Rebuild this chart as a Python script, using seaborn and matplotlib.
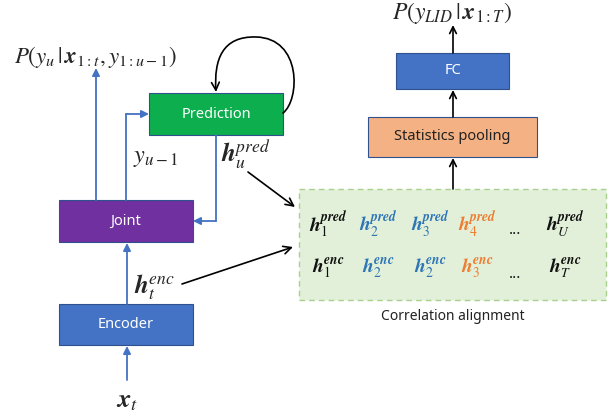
import matplotlib
matplotlib.use("Agg")
import matplotlib.pyplot as plt
import seaborn as sns
from matplotlib.patches import Rectangle, FancyArrowPatch
from matplotlib.path import Path

sns.set_theme(style="white")
plt.rcParams['font.family'] = ['Noto Sans', 'DejaVu Sans']
plt.rcParams['mathtext.fontset'] = 'stix'

# ---- content ----
box_names = ["Prediction", "Joint", "Encoder", "FC", "Statistics pooling"]
box_colors = ["#0DAE4E", "#7030A0", "#4472C4", "#4472C4", "#F4B183"]
box_text_colors = ["white", "white", "white", "white", "#222222"]

pred_row = [r"$\mathbfit{h}_{1}^{\mathbfit{pred}}$", r"$\mathbfit{h}_{2}^{\mathbfit{pred}}$",
            r"$\mathbfit{h}_{3}^{\mathbfit{pred}}$", r"$\mathbfit{h}_{4}^{\mathbfit{pred}}$",
            "...", r"$\mathbfit{h}_{U}^{\mathbfit{pred}}$"]
enc_row = [r"$\mathbfit{h}_{1}^{\mathbfit{enc}}$", r"$\mathbfit{h}_{2}^{\mathbfit{enc}}$",
           r"$\mathbfit{h}_{2}^{\mathbfit{enc}}$", r"$\mathbfit{h}_{3}^{\mathbfit{enc}}$",
           "...", r"$\mathbfit{h}_{T}^{\mathbfit{enc}}$"]
row_colors = ["#111111", "#2E75B6", "#2E75B6", "#ED7D31", "#111111", "#111111"]

label_out_asr = r"$P(y_u\,|\,\mathbfit{x}_{1:t},y_{1:u-1})$"
label_out_lid = r"$P(y_{LID}\,|\,\mathbfit{x}_{1:T})$"
label_prev = r"$y_{u-1}$"
label_hpred = r"$\mathbfit{h}_u^{pred}$"
label_henc = r"$\mathbfit{h}_t^{enc}$"
label_x = r"$\mathbfit{x}_t$"
label_align = "Correlation alignment"

# ---- layout (pixel coordinates) ----
box_rects = [(149, 93, 134, 42), (59, 200, 134, 42), (59, 304, 134, 41),
             (396, 53, 113, 36), (368, 117, 169, 40)]
col_x = [328, 378, 430, 477, 515, 565]

BLUE = "#4472C4"
fig = plt.figure(figsize=(6.16, 4.16), dpi=100)
ax = fig.add_axes([0, 0, 1, 1])
ax.set_xlim(0, 616)
ax.set_ylim(416, 0)
ax.axis("off")

# green alignment box
ax.add_patch(Rectangle((299, 189), 307, 111, facecolor="#E2F0D9", edgecolor="#A9D18E",
                       lw=1.0, ls=(0, (4, 3)), zorder=1))

for (x, y, w, h), name, fc, tc in zip(box_rects, box_names, box_colors, box_text_colors):
    ax.add_patch(Rectangle((x, y), w, h, facecolor=fc, edgecolor="#2F528F", lw=0.8, zorder=2))
    ax.text(x + w / 2, y + h / 2, name, ha="center", va="center", color=tc,
            fontsize=10.5, zorder=3)

def arrow(p0, p1, color, style, lw=1.2, ms=12):
    ax.annotate("", xy=p1, xytext=p0,
                arrowprops=dict(arrowstyle=style, color=color, lw=lw,
                                shrinkA=0, shrinkB=0, mutation_scale=ms), zorder=4)

# blue connections
arrow((127, 380), (127, 346), BLUE, "-|>", 1.3, 11)
arrow((127, 304), (127, 243), BLUE, "-|>", 1.3, 11)
arrow((96, 200), (96, 68), BLUE, "-|>", 1.3, 11)
ax.plot([126, 126], [200, 114], color=BLUE, lw=1.3, zorder=4)
arrow((126, 114), (149, 114), BLUE, "-|>", 1.3, 11)
ax.plot([216, 216], [135, 221], color=BLUE, lw=1.3, zorder=4)
arrow((216, 221), (193, 221), BLUE, "-|>", 1.3, 11)

# black arrows
arrow((182, 284), (293, 247), "black", "->", 1.2, 14)
arrow((248, 172), (295, 207), "black", "->", 1.2, 14)
arrow((453, 189), (453, 158), "black", "->", 1.2, 12)
arrow((453, 117), (453, 90), "black", "->", 1.2, 12)
arrow((453, 53), (453, 25), "black", "->", 1.2, 12)

# self loop on prediction
verts = [(283, 113), (300, 100), (302, 38), (256, 37),
         (222, 36), (214, 60), (216, 92)]
codes = [Path.MOVETO, Path.CURVE4, Path.CURVE4, Path.CURVE4,
         Path.CURVE4, Path.CURVE4, Path.CURVE4]
ax.add_patch(FancyArrowPatch(path=Path(verts, codes), arrowstyle="->", color="black",
                             lw=1.2, mutation_scale=14, zorder=4))

# labels
ax.text(95, 57, label_out_asr, ha="center", va="center", fontsize=16.5)
ax.text(452, 13, label_out_lid, ha="center", va="center", fontsize=17)
ax.text(133, 157, label_prev, ha="left", va="center", fontsize=17.5)
ax.text(221, 155, label_hpred, ha="left", va="center", fontsize=18)
ax.text(134, 287, label_henc, ha="left", va="center", fontsize=18)
ax.text(127, 400, label_x, ha="center", va="center", fontsize=19)
ax.text(453, 317, label_align, ha="center", va="center", fontsize=10, color="#222222")

for x, s, c in zip(col_x, pred_row, row_colors):
    if s == "...":
        ax.text(x, 231, s, ha="center", va="center", fontsize=11, fontweight="bold",
                color=c, zorder=3)
    else:
        ax.text(x, 225, s, ha="center", va="center", fontsize=14, color=c, zorder=3)
for x, s, c in zip(col_x, enc_row, row_colors):
    if s == "...":
        ax.text(x, 274, s, ha="center", va="center", fontsize=11, fontweight="bold",
                color=c, zorder=3)
    else:
        ax.text(x, 268, s, ha="center", va="center", fontsize=14, color=c, zorder=3)

fig.savefig("out.png", dpi=100, facecolor="white")
